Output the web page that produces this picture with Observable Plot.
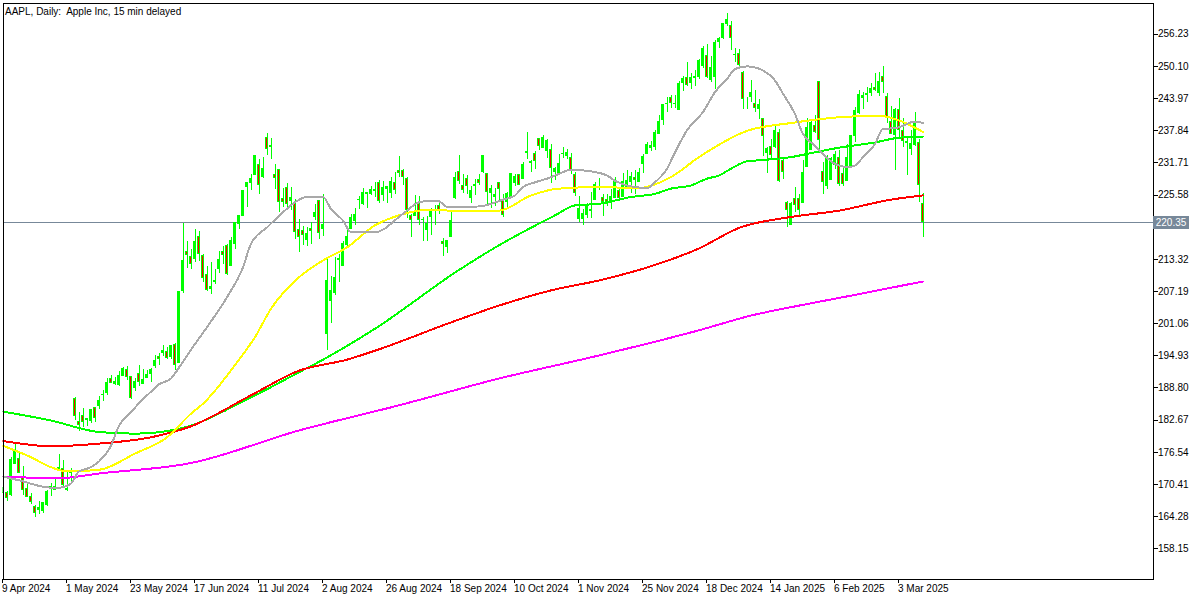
<!DOCTYPE html>
<html>
<head>
<meta charset="utf-8">
<script src="https://cdn.jsdelivr.net/npm/d3@7"></script>
<script src="https://cdn.jsdelivr.net/npm/@observablehq/plot@0.6"></script>
<style>
  html, body { margin: 0; padding: 0; background: #fff; }
  svg text { white-space: pre; }
  #chart svg { display: block; }
</style>
</head>
<body>
<div id="chart"></div>
<script>
const titleText = "AAPL, Daily:  Apple Inc, 15 min delayed";
const lastPrice = 220.35;

const dates = [
"2024-04-09","2024-04-10","2024-04-11","2024-04-12","2024-04-15","2024-04-16","2024-04-17","2024-04-18","2024-04-19","2024-04-22",
"2024-04-23","2024-04-24","2024-04-25","2024-04-26","2024-04-29","2024-04-30","2024-05-01","2024-05-02","2024-05-03","2024-05-06",
"2024-05-07","2024-05-08","2024-05-09","2024-05-10","2024-05-13","2024-05-14","2024-05-15","2024-05-16","2024-05-17","2024-05-20",
"2024-05-21","2024-05-22","2024-05-23","2024-05-24","2024-05-28","2024-05-29","2024-05-30","2024-05-31","2024-06-03","2024-06-04",
"2024-06-05","2024-06-06","2024-06-07","2024-06-10","2024-06-11","2024-06-12","2024-06-13","2024-06-14","2024-06-17","2024-06-18",
"2024-06-20","2024-06-21","2024-06-24","2024-06-25","2024-06-26","2024-06-27","2024-06-28","2024-07-01","2024-07-02","2024-07-03",
"2024-07-05","2024-07-08","2024-07-09","2024-07-10","2024-07-11","2024-07-12","2024-07-15","2024-07-16","2024-07-17","2024-07-18",
"2024-07-19","2024-07-22","2024-07-23","2024-07-24","2024-07-25","2024-07-26","2024-07-29","2024-07-30","2024-07-31","2024-08-01",
"2024-08-02","2024-08-05","2024-08-06","2024-08-07","2024-08-08","2024-08-09","2024-08-12","2024-08-13","2024-08-14","2024-08-15",
"2024-08-16","2024-08-19","2024-08-20","2024-08-21","2024-08-22","2024-08-23","2024-08-26","2024-08-27","2024-08-28","2024-08-29",
"2024-08-30","2024-09-03","2024-09-04","2024-09-05","2024-09-06","2024-09-09","2024-09-10","2024-09-11","2024-09-12","2024-09-13",
"2024-09-16","2024-09-17","2024-09-18","2024-09-19","2024-09-20","2024-09-23","2024-09-24","2024-09-25","2024-09-26","2024-09-27",
"2024-09-30","2024-10-01","2024-10-02","2024-10-03","2024-10-04","2024-10-07","2024-10-08","2024-10-09","2024-10-10","2024-10-11",
"2024-10-14","2024-10-15","2024-10-16","2024-10-17","2024-10-18","2024-10-21","2024-10-22","2024-10-23","2024-10-24","2024-10-25",
"2024-10-28","2024-10-29","2024-10-30","2024-10-31","2024-11-01","2024-11-04","2024-11-05","2024-11-06","2024-11-07","2024-11-08",
"2024-11-11","2024-11-12","2024-11-13","2024-11-14","2024-11-15","2024-11-18","2024-11-19","2024-11-20","2024-11-21","2024-11-22",
"2024-11-25","2024-11-26","2024-11-27","2024-11-29","2024-12-02","2024-12-03","2024-12-04","2024-12-05","2024-12-06","2024-12-09",
"2024-12-10","2024-12-11","2024-12-12","2024-12-13","2024-12-16","2024-12-17","2024-12-18","2024-12-19","2024-12-20","2024-12-23",
"2024-12-24","2024-12-26","2024-12-27","2024-12-30","2024-12-31","2025-01-02","2025-01-03","2025-01-06","2025-01-07","2025-01-08",
"2025-01-10","2025-01-13","2025-01-14","2025-01-15","2025-01-16","2025-01-17","2025-01-21","2025-01-22","2025-01-23","2025-01-24",
"2025-01-27","2025-01-28","2025-01-29","2025-01-30","2025-01-31","2025-02-03","2025-02-04","2025-02-05","2025-02-06","2025-02-07",
"2025-02-10","2025-02-11","2025-02-12","2025-02-13","2025-02-14","2025-02-18","2025-02-19","2025-02-20","2025-02-21","2025-02-24",
"2025-02-25","2025-02-26","2025-02-27","2025-02-28","2025-03-03","2025-03-04","2025-03-05","2025-03-06","2025-03-07","2025-03-10",
"2025-03-11"];

const open = [
168.70,168.80,168.34,174.26,175.36,171.75,169.61,168.03,166.21,165.52,
165.35,166.54,169.53,169.88,173.37,173.33,169.58,172.51,186.65,182.35,
183.45,182.85,182.56,184.90,185.44,187.51,187.91,190.47,189.51,189.33,
191.09,192.27,190.98,188.82,191.51,189.61,190.76,191.44,192.90,194.64,
195.40,195.69,194.65,196.90,193.65,207.37,214.74,213.85,213.37,217.59,
213.93,210.39,207.72,209.15,211.50,214.69,215.77,212.09,216.15,220.00,
221.65,227.09,227.93,229.30,231.39,228.92,236.48,235.00,229.45,230.28,
224.82,227.01,224.37,224.00,218.93,218.70,216.96,219.19,221.44,224.37,
219.15,199.09,205.30,206.90,213.11,212.10,216.07,219.01,220.57,224.60,
223.92,225.72,225.77,226.52,227.79,225.66,226.76,226.00,227.92,230.10,
230.19,228.55,221.66,221.63,223.95,220.82,218.92,221.46,222.50,223.58,
216.54,215.75,217.55,224.99,229.97,227.34,228.65,224.93,227.30,228.46,
230.04,229.52,225.89,225.14,227.90,224.50,224.30,225.23,227.78,229.30,
228.70,233.61,231.60,233.43,236.18,234.45,233.89,234.08,229.98,229.74,
233.32,233.10,232.61,229.34,220.97,220.99,221.80,222.61,224.63,227.17,
225.00,224.55,224.01,225.02,226.40,225.25,226.98,228.06,228.88,228.06,
231.46,233.33,234.47,234.81,237.27,239.81,242.87,243.99,242.91,241.83,
246.89,247.96,246.89,247.82,247.99,250.08,252.16,247.50,248.04,254.77,
255.49,258.19,257.83,252.23,252.44,248.93,243.36,244.31,242.98,241.92,
240.01,233.53,234.75,234.64,237.35,232.12,224.00,219.79,224.74,224.78,
224.02,230.85,234.12,238.67,247.19,229.99,227.25,228.53,231.29,232.60,
229.57,228.20,231.20,236.91,241.25,244.15,244.66,244.94,245.95,244.93,
248.00,244.33,239.41,236.95,241.79,237.71,235.42,234.44,235.11,235.54,
223.81];

const high = [
170.08,169.09,175.46,178.36,176.63,173.76,170.65,168.64,166.40,167.26,
167.05,169.30,170.61,171.34,176.03,174.99,172.71,173.42,187.00,184.20,
184.90,183.07,184.66,185.09,187.10,188.30,190.65,191.10,190.81,191.92,
192.73,192.82,191.00,190.58,193.00,192.25,192.18,192.57,194.99,195.32,
196.90,196.50,196.94,197.30,207.16,220.20,216.75,215.17,218.95,218.63,
214.24,211.89,212.70,211.38,214.86,215.74,216.07,217.51,220.38,221.55,
226.45,227.85,229.40,233.08,232.39,232.64,237.23,236.27,231.46,230.44,
226.80,227.78,226.94,224.80,220.85,219.49,219.30,220.33,223.82,224.48,
225.60,213.50,209.99,213.64,214.20,216.78,219.51,221.89,223.03,225.35,
226.83,225.99,227.17,227.98,228.34,228.22,227.28,228.85,229.86,232.92,
230.40,229.00,221.78,225.48,225.24,221.27,221.48,223.09,223.55,224.04,
217.22,216.90,222.71,229.82,233.09,229.45,229.35,227.29,228.50,229.52,
233.00,229.65,227.37,226.81,228.00,225.69,225.98,229.75,229.50,229.41,
231.73,237.49,232.12,233.85,236.18,236.85,236.22,235.14,230.82,233.22,
234.73,234.33,233.47,229.83,225.35,222.79,223.95,226.07,227.88,228.66,
225.70,225.59,226.65,228.87,226.92,229.74,230.16,229.93,230.16,230.72,
233.25,235.57,235.69,237.81,240.79,242.76,244.11,244.54,244.63,247.24,
248.21,250.80,248.74,249.29,251.38,253.83,254.28,252.00,255.00,255.65,
258.21,260.10,258.70,253.50,253.28,249.10,244.18,247.33,245.55,243.71,
240.16,234.67,236.12,238.96,238.01,232.29,224.42,224.12,227.03,225.63,
232.15,240.19,239.86,240.79,247.19,231.83,233.13,232.67,233.80,234.00,
230.59,235.23,236.96,242.34,245.55,245.18,246.01,246.78,248.69,248.86,
250.00,244.98,242.46,242.09,244.03,240.07,236.55,237.86,241.37,236.16,
225.84];

const low = [
168.35,167.11,168.16,174.21,172.50,168.27,168.00,166.55,164.08,164.77,
164.92,166.21,168.15,169.18,173.10,170.00,169.11,170.89,182.66,180.42,
181.32,181.45,182.11,182.13,184.62,186.29,187.37,189.66,189.18,189.01,
190.92,190.27,186.63,188.04,189.10,189.51,190.63,189.91,192.52,193.03,
194.87,194.17,194.14,192.15,193.63,206.90,211.60,211.30,212.72,213.00,
208.85,207.11,206.59,208.61,210.64,212.35,210.30,211.92,215.10,219.03,
221.65,223.25,226.37,229.25,225.77,228.68,233.09,232.33,226.64,222.27,
223.28,223.09,222.68,217.13,214.62,216.01,215.75,216.12,220.63,217.02,
217.71,196.00,201.07,206.39,208.83,211.97,215.60,219.01,219.70,222.76,
223.65,223.04,225.45,225.05,223.90,224.33,223.89,224.89,225.68,228.88,
227.48,221.17,217.48,221.52,219.77,216.71,216.73,217.89,219.82,221.91,
213.92,214.50,217.54,224.63,227.62,225.81,225.73,224.02,225.41,227.30,
229.65,223.74,223.02,223.32,224.13,221.33,223.25,224.83,227.17,227.34,
228.60,232.37,229.84,230.52,234.01,234.45,232.60,227.76,228.41,229.57,
232.55,232.32,229.55,225.37,220.27,219.71,221.14,221.19,224.57,226.41,
221.50,223.36,222.76,225.00,224.27,225.17,226.66,225.89,225.71,228.06,
229.74,233.33,233.81,233.97,237.16,238.90,241.25,242.13,242.08,241.75,
245.34,246.26,245.68,246.24,247.65,249.78,247.74,247.09,245.69,253.45,
255.29,257.63,253.06,250.75,249.43,241.82,241.89,243.20,241.35,240.05,
233.00,229.72,232.47,234.43,228.03,228.48,219.38,219.79,222.30,221.41,
223.98,230.81,234.01,237.21,233.44,225.70,226.65,228.27,230.43,227.26,
227.20,228.13,230.68,235.57,240.99,241.84,243.16,244.29,245.22,244.42,
244.91,239.13,237.06,230.20,236.11,234.68,229.23,233.16,234.76,224.22,
217.45];

const close = [
169.67,167.78,175.04,176.55,172.69,169.38,168.00,167.04,165.00,165.84,
166.90,169.02,169.89,169.30,173.50,170.33,169.30,173.03,183.38,181.71,
182.40,182.74,184.57,183.05,186.28,187.43,189.72,189.84,189.87,191.04,
192.35,190.90,186.88,189.98,189.99,190.29,191.29,192.25,194.03,194.35,
195.87,194.48,196.89,193.12,207.15,213.07,214.24,212.49,216.67,214.29,
209.68,207.49,208.14,209.07,213.25,214.10,210.62,216.75,220.27,221.55,
226.34,227.82,228.68,232.98,227.57,230.54,234.40,234.82,228.88,224.18,
224.31,223.96,225.01,218.54,217.49,217.96,218.24,218.80,222.08,218.36,
219.86,209.27,207.23,209.82,213.31,216.24,217.53,221.27,221.72,224.72,
226.05,225.89,226.51,226.40,224.53,226.84,227.18,228.03,226.49,229.79,
229.00,222.77,220.85,222.38,220.82,220.91,220.11,222.66,222.77,222.50,
216.32,216.79,220.69,228.87,228.20,226.47,227.37,226.37,227.52,227.79,
233.00,226.21,226.78,225.67,226.80,221.69,225.77,229.54,229.04,227.55,
231.30,233.85,231.78,232.15,235.00,236.48,235.86,230.76,230.57,231.41,
233.40,233.67,230.10,225.91,222.91,222.01,223.45,222.72,227.48,226.96,
224.23,224.23,225.12,228.22,225.00,228.02,228.28,229.00,228.52,229.87,
232.87,235.06,234.93,237.33,239.59,242.65,243.01,243.04,242.84,246.75,
247.77,246.49,247.96,248.13,251.04,253.48,248.05,249.79,254.49,255.27,
258.20,259.02,255.59,252.20,250.42,243.85,243.36,245.00,242.21,242.70,
236.85,234.40,233.28,237.87,228.26,229.98,222.64,223.83,223.66,222.78,
229.86,238.26,239.36,237.59,236.00,228.01,232.80,232.47,233.22,227.63,
227.65,232.62,236.87,241.53,244.60,244.47,244.87,245.83,245.55,247.10,
247.04,240.36,237.30,241.84,238.03,235.93,235.74,235.33,239.07,227.48,
220.35];

// Moving averages: [bar index, price]
const grayMA = [[0,171.9],[4,171.2],[12,169.8],[14,169.8],[17,170.6],[19,172.9],[22,173.7],[24,174.8],[27,177.8],[29,181.6],
[32,184.2],[34,185.9],[37,188.1],[39,189.5],[42,190.6],[44,192.7],[47,196.1],[51,200.4],[56,206.1],[60,211.8],
[62,216.3],[66,219.4],[70,222.3],[73,224.2],[76,225.2],[80,225.2],[82,222.9],[85,220.7],[87,218.5],[93,218.5],
[100,222.0],[104,224.2],[107,224.5],[109,224.4],[111,223.3],[114,223.3],[119,223.4],[122,223.9],[125,224.7],[128,225.5],
[130,227.1],[133,228.0],[136,228.7],[139,229.6],[142,230.4],[146,230.2],[151,229.3],[153,228.3],[156,227.4],[158,227.1],
[161,226.9],[163,228.0],[166,230.6],[168,233.7],[171,237.9],[175,241.4],[178,245.2],[181,247.7],[183,249.6],[186,250.1],
[188,249.9],[190,249.3],[193,247.4],[195,244.9],[198,241.0],[200,237.2],[203,235.0],[205,233.4],[208,231.5],[211,230.9],
[213,231.2],[215,232.8],[218,235.3],[220,238.2],[223,238.3],[225,238.8],[228,239.6],[230,239.3]];

const yellowMA = [[0,177.8],[7,175.6],[12,173.7],[16,172.9],[24,173.2],[33,176.3],[41,179.4],[47,183.9],[50,185.8],[59,194.2],
[63,198.5],[67,203.9],[74,209.9],[80,213.1],[86,215.6],[93,219.8],[99,221.7],[107,222.8],[114,222.5],[124,222.6],
[132,225.5],[139,226.8],[149,227.1],[159,226.9],[167,229.0],[174,232.8],[186,237.8],[197,239.3],[209,240.4],[219,240.7],
[224,239.8],[230,237.6]];

const greenMA = [[0,184.3],[12,182.6],[24,180.4],[33,180.1],[44,181.0],[62,187.0],[74,191.8],[80,194.2],[93,200.1],[114,211.3],
[124,216.0],[138,221.7],[143,223.6],[149,223.9],[157,225.2],[163,225.8],[167,226.8],[172,227.4],[176,228.7],[179,229.3],
[182,230.6],[186,232.0],[189,232.2],[197,232.8],[201,233.4],[209,234.6],[218,235.6],[224,236.5],[230,236.7]];

const redMA = [[0,178.7],[12,177.7],[24,178.2],[37,179.4],[47,181.5],[62,187.4],[74,192.1],[86,194.2],[93,195.9],[112,201.3],
[124,204.5],[137,207.4],[149,209.3],[162,212.0],[174,215.4],[184,219.3],[197,221.4],[209,222.6],[222,224.7],[230,225.5]];

const magentaMA = [[0,171.9],[14,171.6],[24,172.5],[47,174.5],[74,180.7],[99,185.5],[124,190.6],[149,195.0],[174,199.8],[187,202.6],
[199,204.5],[212,206.4],[230,209.1]];

// 219.45 sits under the current-price label on the reference
const yTicks = [256.23,250.10,243.97,237.84,231.71,225.58,213.32,207.19,201.06,194.93,188.80,182.67,176.54,170.41,164.28,158.15];
const xTickIdx = [0,16,32,48,64,80,96,112,128,144,160,176,192,208,224];
const xTickLabels = ["9 Apr 2024","1 May 2024","23 May 2024","17 Jun 2024","11 Jul 2024","2 Aug 2024","26 Aug 2024","18 Sep 2024","10 Oct 2024","1 Nov 2024","25 Nov 2024","18 Dec 2024","14 Jan 2025","6 Feb 2025","3 Mar 2025"];

const candles = dates.map((d, i) => ({i, date: d, open: open[i], high: high[i], low: low[i], close: close[i]}));

const LIME = "#00ff00", RED = "#ff0000";
const FONT = "'Liberation Sans', Arial, sans-serif";
const maLine = (data, color) => Plot.line(data, {x: d => d[0], y: d => d[1], stroke: color, strokeWidth: 2, curve: "monotone-x", clip: "frame"});

const chart = Plot.plot({
  width: 1200,
  height: 600,
  marginLeft: 2.5,
  marginRight: 47.5,
  marginTop: 2.5,
  marginBottom: 21.5,
  style: {fontFamily: FONT, fontSize: "10px", background: "#ffffff", color: "#000000"},
  x: {type: "linear", domain: [0, 287.5]},
  y: {type: "linear", domain: [152.394, 262.177]},
  marks: [
    Plot.ruleY([lastPrice], {stroke: "#778899", strokeWidth: 1}),
    Plot.ruleX(candles, {x: "i", y1: "low", y2: "high", stroke: LIME, strokeWidth: 1, clip: "frame"}),
    Plot.rect(candles, {
      x1: d => d.i - 0.25, x2: d => d.i + 0.25,
      y1: "open", y2: "close",
      fill: d => d.close >= d.open ? LIME : RED,
      stroke: LIME, strokeWidth: 1, clip: "frame"
    }),
    maLine(magentaMA, "#ff00ff"),
    maLine(greenMA, LIME),
    maLine(redMA, RED),
    maLine(yellowMA, "#ffff00"),
    maLine(grayMA, "#a9a9a9"),
    Plot.frame({stroke: "#000000", strokeWidth: 1}),
    Plot.axisY({anchor: "right", ticks: yTicks, tickFormat: d => d.toFixed(2), tickSize: 4, tickPadding: 1, label: null, fontSize: 10}),
    Plot.axisX({anchor: "bottom", ticks: xTickIdx, tickFormat: d => xTickLabels[xTickIdx.indexOf(d)], tickSize: 4, tickPadding: 2, textAnchor: "start", dx: -1, label: null, fontSize: 10}),
    Plot.text([titleText], {frameAnchor: "top-left", dx: 2, dy: 4.5, lineAnchor: "top", textAnchor: "start", fill: "#000000", fontSize: 10})
  ]
});

chart.setAttribute("shape-rendering", "crispEdges");
document.getElementById("chart").appendChild(chart);

// current price label on the right axis, placed with the y scale
const py = Math.round(chart.scale("y").apply(lastPrice));
const g = d3.select(chart).append("g").attr("font-family", FONT).attr("font-size", 10);
g.append("rect").attr("x", 1153).attr("y", py - 6).attr("width", 36).attr("height", 13).attr("fill", "#778899");
g.append("text").attr("x", 1171).attr("y", py + 4).attr("text-anchor", "middle").attr("fill", "#ffffff").text(lastPrice.toFixed(2));
</script>
</body>
</html>
